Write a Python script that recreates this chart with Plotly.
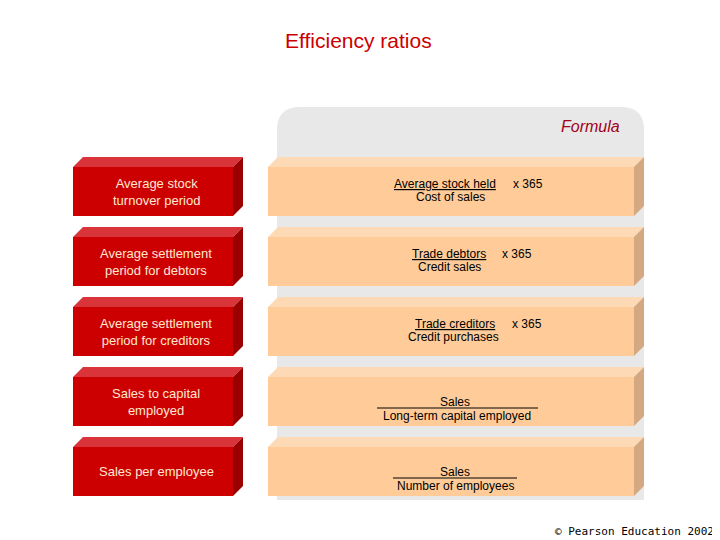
import plotly.graph_objects as go

ratio_names = ["Average stock<br>turnover period", "Average settlement<br>period for debtors",
               "Average settlement<br>period for creditors", "Sales to capital<br>employed", "Sales per employee"]
numerators = ["Average stock held", "Trade debtors", "Trade creditors", "Sales", "Sales"]
denominators = ["Cost of sales", "Credit sales", "Credit purchases", "Long-term capital employed", "Number of employees"]
multipliers = ["x 365", "x 365", "x 365", "", ""]
num_x = [445, 449, 455, 455, 455]
mult_x = [528, 517, 527, 0, 0]
den_x = [450, 449, 453, 457, 455]
rule_span = [None, None, None, (377, 538), (393, 517)]

fig = go.Figure()
shapes, ann = [], []
F = "Liberation Sans, Arial, sans-serif"

# gray panel
shapes.append(dict(type="path", path="M 277 500 L 277 130 Q 277 107 300 107 L 621 107 Q 644 107 644 130 L 644 500 Z",
                   fillcolor="#E8E8E8", line_width=0, layer="below"))
for i, name in enumerate(ratio_names):
    t = 157 + 70 * i; f = t + 10; b = t + 59
    shapes.append(dict(type="path", path=f"M 73 {f} L 83 {t} L 243 {t} L 233 {f} Z", fillcolor="#D8343A", line_width=0))
    shapes.append(dict(type="path", path=f"M 233 {f} L 243 {t} L 243 {b-10} L 233 {b} Z", fillcolor="#9A0000", line_width=0))
    shapes.append(dict(type="rect", x0=73, x1=233, y0=f, y1=b, fillcolor="#CC0000", line_width=0))
    ann.append(dict(x=156, y=(f + b) / 2, text=name, showarrow=False, font=dict(family=F, size=13, color="#FFE8D0")))
    shapes.append(dict(type="path", path=f"M 268 {f} L 278 {t} L 644 {t} L 634 {f} Z", fillcolor="#FDD9B5", line_width=0))
    shapes.append(dict(type="path", path=f"M 634 {f} L 644 {t} L 644 {b-10} L 634 {b} Z", fillcolor="#D4A982", line_width=0))
    shapes.append(dict(type="rect", x0=268, x1=634, y0=f, y1=b, fillcolor="#FFCC99", line_width=0))
    if rule_span[i]:
        x0, x1 = rule_span[i]
        shapes.append(dict(type="line", x0=x0, x1=x1, y0=t + 41, y1=t + 41, line=dict(color="black", width=1)))
        ann.append(dict(x=num_x[i], y=t + 35, text=numerators[i], showarrow=False, font=dict(family=F, size=12, color="black")))
    else:
        ann.append(dict(x=num_x[i], y=t + 27, text=f"<u>{numerators[i]}</u>", showarrow=False, font=dict(family=F, size=12, color="black")))
        ann.append(dict(x=mult_x[i], y=t + 27, text=multipliers[i], showarrow=False, font=dict(family=F, size=12, color="black")))
    ann.append(dict(x=den_x[i], y=t + (49 if rule_span[i] else 40), text=denominators[i], showarrow=False,
                    font=dict(family=F, size=12, color="black")))

ann.append(dict(x=358, y=40, text="Efficiency ratios", showarrow=False, font=dict(family=F, size=21, color="#CC0000")))
ann.append(dict(x=590, y=126, text="<i>Formula</i>", showarrow=False, font=dict(family=F, size=16, color="#A0001A")))
ann.append(dict(x=716, y=531, xanchor="right", text="© Pearson Education 2002", showarrow=False,
                font=dict(family="DejaVu Sans Mono, monospace", size=11, color="black")))

fig.update_layout(width=720, height=540, margin=dict(l=0, r=0, t=0, b=0), plot_bgcolor="white", paper_bgcolor="white",
                  shapes=shapes, annotations=ann, showlegend=False,
                  xaxis=dict(range=[8, 728], visible=False, fixedrange=True),
                  yaxis=dict(range=[548, 8], visible=False, fixedrange=True))
fig.write_html("out.html")
